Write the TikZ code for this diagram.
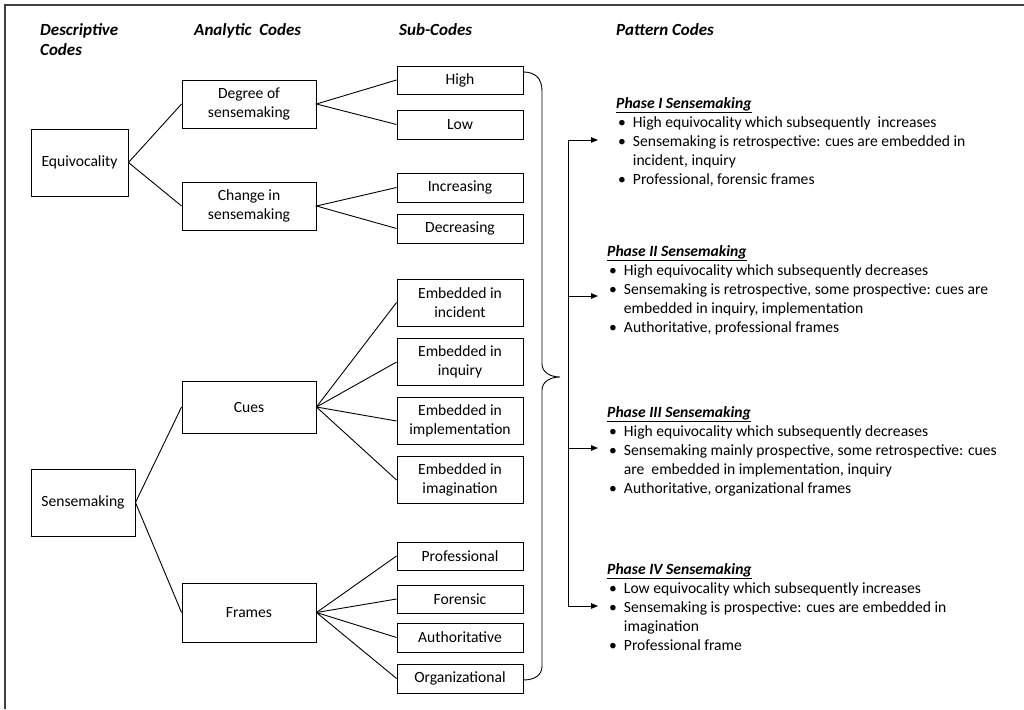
\documentclass[tikz,border=0pt]{standalone}
\usepackage{fontspec}
\setmainfont{Carlito}
\usetikzlibrary{arrows.meta}
\begin{document}
\begin{tikzpicture}[x=1pt,y=-1pt,
  box/.style={draw, line width=0.9pt, inner sep=1pt, align=center, font=\fontsize{15.6}{19}\selectfont},
  link/.style={line width=0.9pt},
  hd/.style={font=\fontsize{17}{19.5}\selectfont\bfseries\itshape, anchor=base west, inner sep=0pt},
  ph/.style={font=\fontsize{15.6}{19}\selectfont, anchor=base west, inner sep=0pt},
  tip/.style={-{Triangle[length=7pt,width=5.5pt]}}]
\useasboundingbox (0,0) rectangle (1024,709);
\fill[white] (0,0) rectangle (1024,709);
\draw[line width=1.5pt, black!75] (5,709) -- (5,5) -- (1024,5);

% headings
\node[hd] (h1) at (40,36) {\begin{tabular}[t]{@{}l@{}}Descriptive\\Codes\end{tabular}};
\node[hd] (h2) at (194,36) {Analytic~ Codes};
\node[hd] (h3) at (399,36) {Sub-Codes};
\node[hd] (h4) at (616,36) {Pattern Codes};

% descriptive
\node[box, minimum width=97pt, minimum height=67pt] (equ) at (79.5,162.5) {Equivocality};
\node[box, minimum width=104pt, minimum height=67pt] (sen) at (83,502.5) {Sensemaking};

% analytic
\node[box, minimum width=134pt, minimum height=48pt] (deg) at (249,104) {Degree of\\sensemaking};
\node[box, minimum width=134pt, minimum height=48pt] (chg) at (249,206) {Change in\\sensemaking};
\node[box, minimum width=134pt, minimum height=52pt] (cue) at (249,407) {Cues};
\node[box, minimum width=134pt, minimum height=59pt] (frm) at (249,612.5) {Frames};

% sub-codes
\node[box, minimum width=126pt, minimum height=28pt] (hig) at (460,80) {High};
\node[box, minimum width=126pt, minimum height=29pt] (low) at (460,124.5) {Low};
\node[box, minimum width=126pt, minimum height=29pt] (inc) at (460,187.5) {Increasing};
\node[box, minimum width=126pt, minimum height=29pt] (dec) at (460,228.5) {Decreasing};
\node[box, minimum width=126pt, minimum height=47pt] (e1) at (460,302.5) {Embedded in\\incident};
\node[box, minimum width=126pt, minimum height=47pt] (e2) at (460,362) {Embedded in\\inquiry};
\node[box, minimum width=126pt, minimum height=47pt] (e3) at (460,421) {Embedded in\\implementation};
\node[box, minimum width=126pt, minimum height=47pt] (e4) at (460,480) {Embedded in\\imagination};
\node[box, minimum width=126pt, minimum height=28pt] (f1) at (460,556) {Professional};
\node[box, minimum width=126pt, minimum height=28pt] (f2) at (460,599) {Forensic};
\node[box, minimum width=126pt, minimum height=29pt] (f3) at (460,637.5) {Authoritative};
\node[box, minimum width=126pt, minimum height=29pt] (f4) at (460,678.5) {Organizational};

% connectors
\draw[link] (deg.west) -- (equ.east) -- (chg.west);
\draw[link] (cue.west) -- (sen.east) -- (frm.west);
\draw[link] (hig.west) -- (deg.east) -- (low.west);
\draw[link] (inc.west) -- (chg.east) -- (dec.west);
\foreach \n in {e1,e2,e3,e4} \draw[link] (cue.east) -- (\n.west);
\foreach \n in {f1,f2,f3,f4} \draw[link] (frm.east) -- (\n.west);

% brace
\draw[link] (523,72) .. controls (535,72) and (542,78) .. (542,91) -- (542,364)
  .. controls (542,372) and (550,377) .. (560,377)
  .. controls (550,377) and (542,382) .. (542,390) -- (542,666)
  .. controls (542,675) and (535,680) .. (523,680);

% arrows
\coordinate (j1) at (568,140); \coordinate (a1) at (598,140);
\coordinate (j2) at (568,296); \coordinate (a2) at (598,296);
\coordinate (j3) at (568,448); \coordinate (a3) at (598,448);
\coordinate (j4) at (568,606); \coordinate (a4) at (598,606);
\draw[link] (j1) -- (j4);
\draw[link,tip] (j1) -- (a1);
\draw[link,tip] (j2) -- (a2);
\draw[link,tip] (j3) -- (a3);
\draw[link,tip] (j4) -- (a4);

% pattern codes
\node[ph] (p1) at (616,108) {\begin{tabular}[t]{@{}l@{\hspace{7pt}}l@{}}
\multicolumn{2}{@{}l@{}}{\textbf{\textit{\underline{Phase I Sensemaking}}}}\\
\hspace{2pt}\textbullet & High equivocality which subsequently\ \ increases\\
\hspace{2pt}\textbullet & Sensemaking is retrospective: cues are embedded in\\
 & incident, inquiry\\
\hspace{2pt}\textbullet & Professional, forensic frames
\end{tabular}};
\node[ph] (p2) at (607,256) {\begin{tabular}[t]{@{}l@{\hspace{7pt}}l@{}}
\multicolumn{2}{@{}l@{}}{\textbf{\textit{\underline{Phase II Sensemaking}}}}\\
\hspace{2pt}\textbullet & High equivocality which subsequently decreases\\
\hspace{2pt}\textbullet & Sensemaking is retrospective, some prospective: cues are\\
 & embedded in inquiry, implementation\\
\hspace{2pt}\textbullet & Authoritative, professional frames
\end{tabular}};
\node[ph] (p3) at (607,417) {\begin{tabular}[t]{@{}l@{\hspace{7pt}}l@{}}
\multicolumn{2}{@{}l@{}}{\textbf{\textit{\underline{Phase III Sensemaking}}}}\\
\hspace{2pt}\textbullet & High equivocality which subsequently decreases\\
\hspace{2pt}\textbullet & Sensemaking mainly prospective, some retrospective: cues\\
 & are\ \ embedded in implementation, inquiry\\
\hspace{2pt}\textbullet & Authoritative, organizational frames
\end{tabular}};
\node[ph] (p4) at (607,574) {\begin{tabular}[t]{@{}l@{\hspace{7pt}}l@{}}
\multicolumn{2}{@{}l@{}}{\textbf{\textit{\underline{Phase IV Sensemaking}}}}\\
\hspace{2pt}\textbullet & Low equivocality which subsequently increases\\
\hspace{2pt}\textbullet & Sensemaking is prospective: cues are embedded in\\
 & imagination\\
\hspace{2pt}\textbullet & Professional frame
\end{tabular}};
\end{tikzpicture}
\end{document}
